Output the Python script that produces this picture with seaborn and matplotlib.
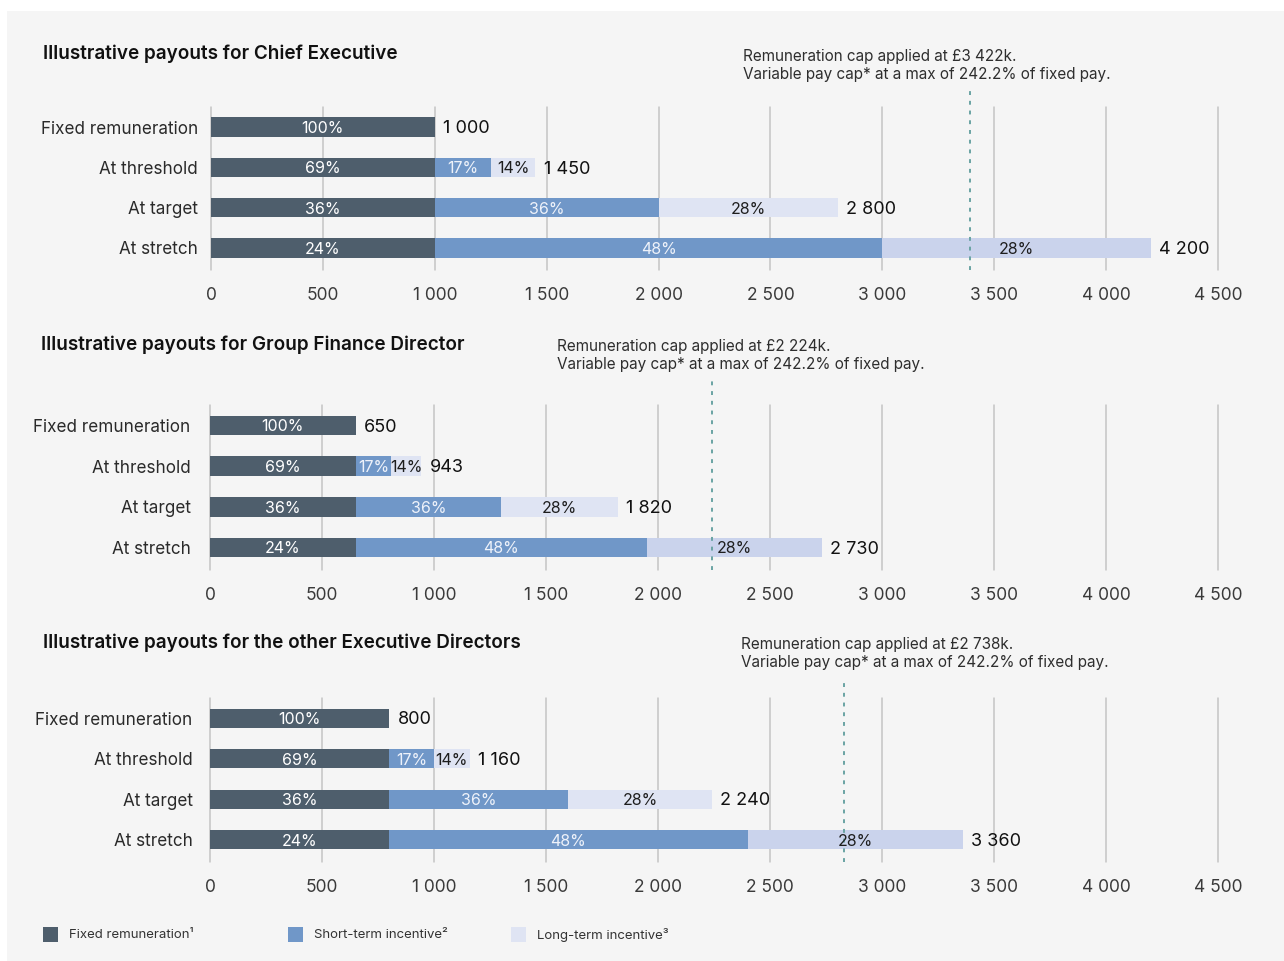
import matplotlib
matplotlib.use("Agg")
import matplotlib.pyplot as plt
from matplotlib.patches import Rectangle
import seaborn as sns
import pandas as pd

# ---------------- data ----------------
rows = ["Fixed remuneration", "At threshold", "At target", "At stretch"]

ceo_fixed = [1000, 1000, 1000, 1000]
ceo_sti = [0, 250, 1000, 2000]
ceo_lti = [0, 200, 800, 1200]
ceo_total_labels = ["1 000", "1 450", "2 800", "4 200"]

gfd_fixed = [650, 650, 650, 650]
gfd_sti = [0, 160, 650, 1300]
gfd_lti = [0, 133, 520, 780]
gfd_total_labels = ["650", "943", "1 820", "2 730"]

oed_fixed = [800, 800, 800, 800]
oed_sti = [0, 200, 800, 1600]
oed_lti = [0, 160, 640, 960]
oed_total_labels = ["800", "1 160", "2 240", "3 360"]

fixed_pct = ["100%", "69%", "36%", "24%"]
sti_pct = ["", "17%", "36%", "48%"]
lti_pct = ["", "14%", "28%", "28%"]

titles = ["Illustrative payouts for Chief Executive",
          "Illustrative payouts for Group Finance Director",
          "Illustrative payouts for the other Executive Directors"]
cap_values = [3390, 2240, 2830]
cap_texts = ["Remuneration cap applied at £3 422k.\nVariable pay cap* at a max of 242.2% of fixed pay.",
             "Remuneration cap applied at £2 224k.\nVariable pay cap* at a max of 242.2% of fixed pay.",
             "Remuneration cap applied at £2 738k.\nVariable pay cap* at a max of 242.2% of fixed pay."]

xticks = [0, 500, 1000, 1500, 2000, 2500, 3000, 3500, 4000, 4500]
xtick_labels = ["0", "500", "1 000", "1 500", "2 000", "2 500", "3 000", "3 500", "4 000", "4 500"]

legend_labels = ["Fixed remuneration¹", "Short-term incentive²", "Long-term incentive³"]

# ---------------- style ----------------
sns.set_theme(style="white")
plt.rcParams["font.family"] = ["Inter", "DejaVu Sans"]

C_FIXED = "#4e5e6c"
C_STI = "#7097c8"
C_LTI = "#dfe4f3"
C_LTI_STRETCH = "#cad3ec"
C_GRID = "#c4c4c4"
C_BG = "#f5f5f5"
C_CAP = "#6aa3a3"

W, H = 1284, 961
fig = plt.figure(figsize=(W / 100, H / 100), dpi=100, facecolor="white")
fig.patches.append(Rectangle((7 / W, 0), 1 - 7 / W, 1 - 11 / H, transform=fig.transFigure,
                             facecolor=C_BG, edgecolor="none", zorder=-10))

panels = [
    dict(fixed=ceo_fixed, sti=ceo_sti, lti=ceo_lti, totals=ceo_total_labels,
         left=211, top=107, bottom=270, title_xy=(43, 54), cap_xy=(743, 65), cap_top=88, ypad=9.5),
    dict(fixed=gfd_fixed, sti=gfd_sti, lti=gfd_lti, totals=gfd_total_labels,
         left=210, top=405, bottom=570, title_xy=(41, 345), cap_xy=(557, 356), cap_top=378, ypad=14),
    dict(fixed=oed_fixed, sti=oed_sti, lti=oed_lti, totals=oed_total_labels,
         left=210, top=698, bottom=862, title_xy=(43, 643), cap_xy=(741, 654), cap_top=678, ypad=12.5),
]
right = 1218

for i, p in enumerate(panels):
    ax = fig.add_axes([p["left"] / W, 1 - p["bottom"] / H,
                       (right - p["left"]) / W, (p["bottom"] - p["top"]) / H])
    ax.set_facecolor("none")
    df = pd.DataFrame({
        "row": rows,
        "fixed": p["fixed"],
        "fs": [a + b for a, b in zip(p["fixed"], p["sti"])],
        "total": [a + b + c for a, b, c in zip(p["fixed"], p["sti"], p["lti"])],
    })
    lti_pal = {r: (C_LTI_STRETCH if r == "At stretch" else C_LTI) for r in rows}
    sns.barplot(data=df, y="row", x="total", hue="row", palette=lti_pal, orient="h",
                width=0.48, saturation=1, errorbar=None, legend=False, ax=ax, zorder=3)
    sns.barplot(data=df, y="row", x="fs", color=C_STI, orient="h",
                width=0.48, saturation=1, errorbar=None, ax=ax, zorder=3)
    sns.barplot(data=df, y="row", x="fixed", color=C_FIXED, orient="h",
                width=0.48, saturation=1, errorbar=None, ax=ax, zorder=3)
    for b in ax.patches:
        b.set_edgecolor("none")

    # labels
    for j in range(len(rows)):
        f, s, l = p["fixed"][j], p["sti"][j], p["lti"][j]
        ax.annotate(fixed_pct[j], xy=(f / 2, j), xytext=(0, -1), textcoords="offset points",
                    ha="center", va="center", color="white", fontsize=11.5, zorder=5)
        if sti_pct[j]:
            ax.annotate(sti_pct[j], xy=(f + s / 2, j), xytext=(0, -1), textcoords="offset points",
                        ha="center", va="center", color="#eef2fa", fontsize=11.5, zorder=5)
        if lti_pct[j]:
            ax.annotate(lti_pct[j], xy=(f + s + l / 2, j), xytext=(0, -1), textcoords="offset points",
                        ha="center", va="center", color="#1e1e1e", fontsize=11.5, zorder=5)
        ax.annotate(p["totals"][j], xy=(f + s + l, j), xytext=(6, -1.2), textcoords="offset points",
                    ha="left", va="center", fontsize=13, color="#111111", zorder=5)

    ax.set_xlim(0, 4500)
    ax.set_ylim(3.55, -0.5)
    ax.set_xticks(xticks)
    ax.set_xticklabels(xtick_labels)
    ax.set_xlabel("")
    ax.set_ylabel("")
    ax.tick_params(axis="x", length=0, pad=12, labelsize=12.5, labelcolor="#3a3a3a")
    ax.tick_params(axis="y", length=0, pad=p["ypad"], labelsize=12.3, labelcolor="#2a2a2a")
    ax.grid(axis="x", color=C_GRID, linewidth=1.1, zorder=0)
    ax.grid(axis="y", visible=False)
    ax.set_axisbelow(True)
    for sp in ax.spines.values():
        sp.set_visible(False)
    for gl in ax.get_xgridlines():
        gl.set_clip_on(False)

    # cap line
    ymax = (p["bottom"] - p["cap_top"]) / (p["bottom"] - p["top"])
    ax.axvline(cap_values[i], ymin=0, ymax=ymax, color=C_CAP, linewidth=1.4,
               linestyle=(0, (2, 3)), clip_on=False, zorder=4)

    # title and annotation
    fig.text(p["title_xy"][0] / W, 1 - p["title_xy"][1] / H, titles[i], ha="left", va="center",
             fontsize=13.6, fontweight="semibold", color="#111111")
    fig.text(p["cap_xy"][0] / W, 1 - p["cap_xy"][1] / H, cap_texts[i], ha="left", va="center",
             fontsize=11, color="#2e2e2e", linespacing=1.25)

# legend
leg_colors = [C_FIXED, C_STI, C_LTI]
leg_x = [43, 288, 511]
for c, x, lab in zip(leg_colors, leg_x, legend_labels):
    fig.patches.append(Rectangle((x / W, 1 - 942 / H), 15 / W, 15 / H, transform=fig.transFigure,
                                 facecolor=c, edgecolor="none"))
    fig.text((x + 26) / W, 1 - 935 / H, lab, ha="left", va="center", fontsize=9.5, color="#333333")

fig.savefig("out.png", dpi=100, facecolor="white")
